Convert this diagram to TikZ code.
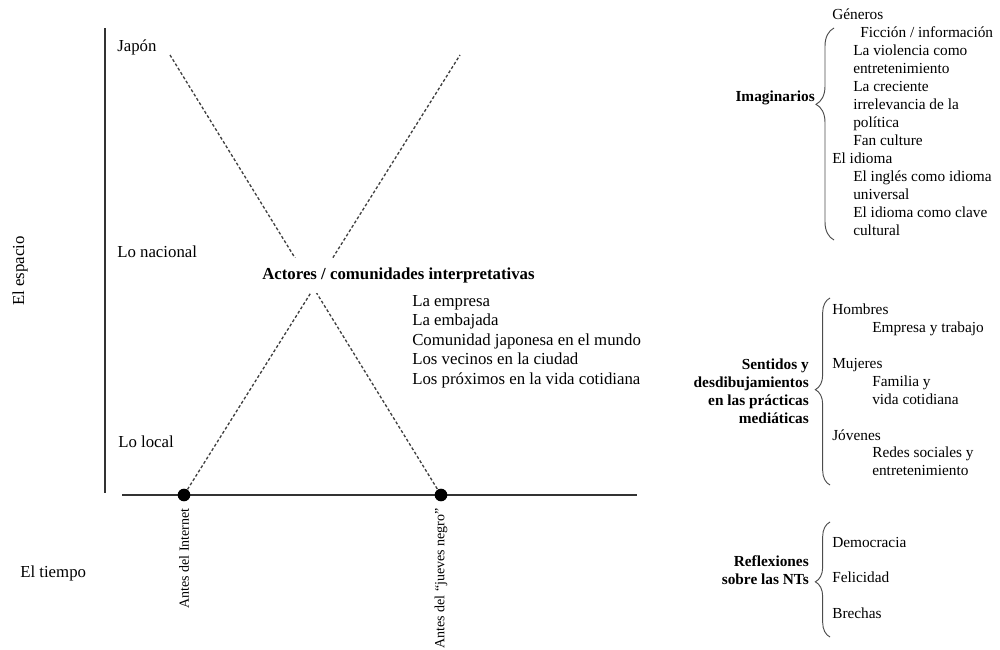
\documentclass[tikz,border=0pt]{standalone}
\usepackage{fontspec}
\setmainfont{Liberation Serif}
\usetikzlibrary{decorations.pathreplacing}
\begin{document}
\begin{tikzpicture}[x=0.75pt,y=-0.75pt,
  lbl/.style={anchor=base west, inner sep=0pt, font=\fontsize{12.6}{14.6}\selectfont},
  rl/.style={anchor=base west, inner sep=0pt, font=\fontsize{11.5}{13.5}\selectfont},
  rb/.style={anchor=east, inner sep=0pt, align=right, font=\fontsize{11.5}{13.5}\selectfont\bfseries},
  rot/.style={rotate=90, inner sep=0pt, font=\fontsize{10.5}{12}\selectfont},
  axisline/.style={line width=1.1pt, draw=black!80},
  guide/.style={line width=1pt, draw=black!75, dash pattern=on 2.2pt off 1.6pt},
  dot/.style={circle, fill=black, inner sep=0pt, minimum size=9.5pt},
  brc/.style={decorate, line width=0.7pt, draw=black!70}
]
\useasboundingbox (0,0) rectangle (1000,650);

% axes
\draw[axisline] (105,28) -- (105,493);
\draw[axisline] (122,495) -- (637,495);

% dots and end points of the guides
\node[dot] (d1) at (184,495) {};
\node[dot] (d2) at (441,495) {};
\coordinate (j1) at (170,55);
\coordinate (j2) at (460,55);

% dashed guides
\draw[guide] (j1) -- (d2);
\draw[guide] (d1) -- (j2);

% central label (white fill opens the gap in the guides)
\node[anchor=base west, inner xsep=0pt, inner ysep=7.5pt, fill=white,
      font=\fontsize{12.6}{14.6}\selectfont\bfseries] (act) at (262,279.5)
      {Actores / comunidades interpretativas};

% left labels
\node[lbl] (jap) at (117,51.5) {Japón};
\node[lbl] (nac) at (117,257.5) {Lo nacional};
\node[lbl] (loc) at (118,447.5) {Lo local};
\node[rotate=90, inner sep=0pt, font=\fontsize{12.6}{14.6}\selectfont] (esp) at (20,271) {El espacio};
\node[lbl] (tie) at (20,577) {El tiempo};
\node[rot, anchor=east] (t1) at (184,508) {Antes del Internet};
\node[rot, anchor=east] (t2) at (441,508) {Antes del “jueves negro”};

% actors list
\node[lbl] (a1) at (412,306.5) {La empresa};
\node[lbl] (a2) at (412,325.5) {La embajada};
\node[lbl] (a3) at (412,345) {Comunidad japonesa en el mundo};
\node[lbl] (a4) at (412,364.5) {Los vecinos en la ciudad};
\node[lbl] (a5) at (412,384) {Los próximos en la vida cotidiana};

% Imaginarios
\node[rb, anchor=base east] (im) at (815,101.5) {Imaginarios};
\draw[brc, decoration={brace, amplitude=13.5pt, aspect=0.64}] (834,240) -- (834,28);
\node[rl] (i1) at (832,19.5) {Géneros};
\node[rl] (i2) at (860,37.5) {Ficción / información};
\node[rl] (i3) at (853,55.5) {La violencia como};
\node[rl] (i4) at (853,73.5) {entretenimiento};
\node[rl] (i5) at (853,91.5) {La creciente};
\node[rl] (i6) at (853,109.5) {irrelevancia de la};
\node[rl] (i7) at (853,127.5) {política};
\node[rl] (i8) at (853,145.5) {Fan culture};
\node[rl] (i9) at (832,163.5) {El idioma};
\node[rl] (i10) at (853,181.5) {El inglés como idioma};
\node[rl] (i11) at (853,199.5) {universal};
\node[rl] (i12) at (853,217.5) {El idioma como clave};
\node[rl] (i13) at (853,235.5) {cultural};

% Sentidos
\node[rb] (se) at (809,391) {Sentidos y\\desdibujamientos\\en las prácticas\\mediáticas};
\draw[brc, decoration={brace, amplitude=11pt, aspect=0.51}] (830,485) -- (830,298);
\node[rl] (s1) at (832,314.5) {Hombres};
\node[rl] (s2) at (872,332.5) {Empresa y trabajo};
\node[rl] (s3) at (832,368.5) {Mujeres};
\node[rl] (s4) at (872,386.5) {Familia y};
\node[rl] (s5) at (872,404.5) {vida cotidiana};
\node[rl] (s6) at (832,440.5) {Jóvenes};
\node[rl] (s7) at (872,457.5) {Redes sociales y};
\node[rl] (s8) at (872,475.5) {entretenimiento};

% Reflexiones
\node[rb] (re) at (809,570) {Reflexiones\\sobre las NTs};
\draw[brc, decoration={brace, amplitude=11pt, aspect=0.48}] (830,637) -- (830,522);
\node[rl] (r1) at (832,547.5) {Democracia};
\node[rl] (r2) at (832,582.5) {Felicidad};
\node[rl] (r3) at (832,618.5) {Brechas};
\end{tikzpicture}
\end{document}
